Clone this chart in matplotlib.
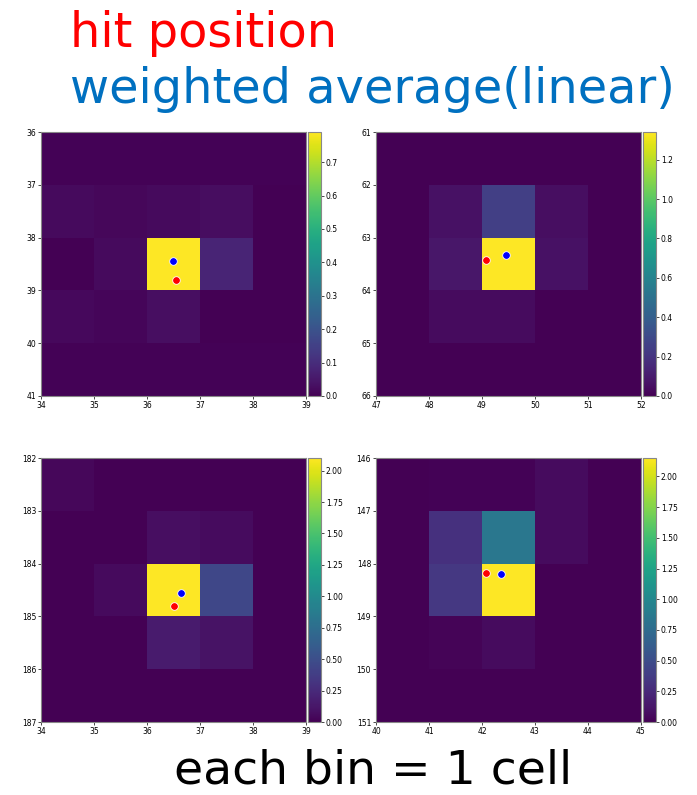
import numpy as np
import matplotlib.pyplot as plt

# panel origins (lower-left bin edges) and cell values, rows = y, cols = x
x0_list = [34, 47, 34, 40]
y0_list = [36, 61, 182, 146]

vals_1 = [[0.005, 0.005, 0.005, 0.005, 0.005],
          [0.02, 0.015, 0.02, 0.025, 0.0],
          [0.0, 0.02, 0.79, 0.08, 0.0],
          [0.018, 0.01, 0.03, 0.0, 0.0],
          [0.005, 0.005, 0.005, 0.005, 0.005]]
vals_2 = [[0.0, 0.0, 0.0, 0.0, 0.0],
          [0.0, 0.06, 0.25, 0.05, 0.0],
          [0.0, 0.08, 1.34, 0.06, 0.0],
          [0.0, 0.04, 0.04, 0.0, 0.0],
          [0.0, 0.0, 0.0, 0.0, 0.0]]
vals_3 = [[0.04, 0.0, 0.0, 0.0, 0.0],
          [0.0, 0.0, 0.08, 0.06, 0.0],
          [0.0, 0.05, 2.1, 0.45, 0.0],
          [0.0, 0.0, 0.15, 0.1, 0.0],
          [0.0, 0.0, 0.0, 0.0, 0.0]]
vals_4 = [[0.0, 0.01, 0.01, 0.06, 0.0],
          [0.0, 0.3, 0.85, 0.06, 0.0],
          [0.0, 0.35, 2.15, 0.0, 0.0],
          [0.0, 0.02, 0.06, 0.0, 0.0],
          [0.0, 0.0, 0.0, 0.0, 0.0]]
all_vals = [vals_1, vals_2, vals_3, vals_4]

hit_x = [36.55, 49.08, 36.52, 42.08]
hit_y = [38.8, 63.42, 184.8, 148.18]
avg_x = [36.5, 49.45, 36.65, 42.35]
avg_y = [38.45, 63.32, 184.55, 148.2]

fig = plt.figure(figsize=(6.97, 7.95), dpi=100)

lefts = [0.0588, 0.5395, 0.0588, 0.5395]
bottoms = [0.5019, 0.5019, 0.0918, 0.0918]
cb_lefts = [0.4419, 0.9225, 0.4419, 0.9225]
W, H, CBW = 0.380, 0.332, 0.0185

for i in range(4):
    ax = fig.add_axes([lefts[i], bottoms[i], W, H])
    xe = np.arange(x0_list[i], x0_list[i] + 6)
    ye = np.arange(y0_list[i], y0_list[i] + 6)
    data = np.array(all_vals[i])
    mesh = ax.pcolormesh(xe, ye, data, cmap='viridis', vmin=0)
    ax.set_xlim(xe[0], xe[-1])
    ax.set_ylim(ye[-1], ye[0])
    ax.set_xticks(xe)
    ax.set_yticks(ye)
    ax.tick_params(labelsize=5.5, length=2, width=0.5, pad=1.5)
    ax.plot(hit_x[i], hit_y[i], 'o', color='red', markersize=5.5,
            markeredgecolor='white', markeredgewidth=0.6)
    ax.plot(avg_x[i], avg_y[i], 'o', color='blue', markersize=5.5,
            markeredgecolor='white', markeredgewidth=0.6)
    for s in ax.spines.values():
        s.set_color('#888888')
    cax = fig.add_axes([cb_lefts[i], bottoms[i], CBW, H])
    cb = fig.colorbar(mesh, cax=cax)
    cb.ax.tick_params(labelsize=5.5, length=2, width=0.5, pad=1.5)
    cb.outline.set_edgecolor('#888888')

fig.text(0.100, 0.9409, 'hit position', color='#FF0000', fontsize=34.5,
         va='baseline')
fig.text(0.100, 0.8704, 'weighted average(linear)', color='#0070C0', fontsize=34.5,
         va='baseline')
fig.text(0.535, 0.015, 'each bin = 1 cell', color='black', fontsize=34,
         ha='center', va='baseline')

plt.savefig('out.png', dpi=100)
